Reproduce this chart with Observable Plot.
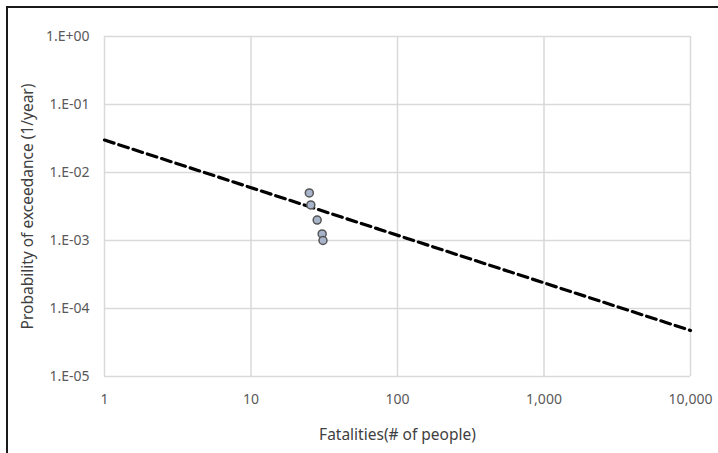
<!DOCTYPE html>
<html>
<head>
<meta charset="utf-8">
<script src="https://cdn.jsdelivr.net/npm/d3@7"></script>
<script src="https://cdn.jsdelivr.net/npm/@observablehq/plot@0.6"></script>
<style>
  html, body { margin: 0; padding: 0; background: #fff; }
  #wrap { position: relative; width: 718px; height: 453px; overflow: hidden; }
  #border { position: absolute; left: 6px; top: 6px; width: 800px; height: 600px;
            border-left: 2px solid #1a1a1a; border-top: 2px solid #1a1a1a; pointer-events: none; }
  svg { font-family: "Noto Sans", sans-serif; }
  svg g[aria-label*="tick label"] text { font-size: 14px !important; fill: #595959; }
  svg g[aria-label="x-axis label"] text { font-size: 15.5px !important; fill: #404040; }
  svg g[aria-label="y-axis label"] text { font-size: 15.5px !important; fill: #404040; }
</style>
</head>
<body>
<div id="wrap"><div id="border"></div></div>
<script>
// Observed events
const fatalities = [25, 25.6, 28.3, 30.6, 31];
const probability = [0.005, 0.00333, 0.002, 0.00125, 0.001];
// F-N criterion line (end points)
const lineFatalities = [1, 10000];
const lineProbability = [0.03, 0.0000475];
// Tick values
const xTicks = [1, 10, 100, 1000, 10000];
const yTicks = [1, 0.1, 0.01, 0.001, 0.0001, 0.00001];

const points = fatalities.map((f, i) => ({f, p: probability[i]}));
const line = lineFatalities.map((f, i) => ({f, p: lineProbability[i]}));

const yFmt = d => {
  const e = Math.round(Math.log10(d));
  return "1.E" + (e >= 0 ? "+" : "-") + String(Math.abs(e)).padStart(2, "0");
};

const chart = Plot.plot({
  width: 718,
  height: 453,
  marginLeft: 104,
  marginRight: 28,
  marginTop: 36,
  marginBottom: 77,
  style: {fontFamily: "'Noto Sans', sans-serif", fontSize: "14px", color: "#595959", background: "transparent"},
  x: {type: "log", domain: [1, 10000]},
  y: {type: "log", domain: [0.00001, 1]},
  marks: [
    Plot.gridX(xTicks, {stroke: "#d9d9d9", strokeWidth: 1.5, strokeOpacity: 1}),
    Plot.gridY(yTicks, {stroke: "#d9d9d9", strokeWidth: 1.5, strokeOpacity: 1}),
    Plot.axisX({ticks: xTicks, tickFormat: d3.format(","), tickSize: 0, tickPadding: 18,
      label: "Fatalities(# of people)", labelAnchor: "center", labelArrow: "none", labelOffset: 63}),
    Plot.axisY({ticks: yTicks, tickFormat: yFmt, tickSize: 0, tickPadding: 15,
      label: "Probability of exceedance (1/year)", labelAnchor: "center", labelArrow: "none", labelOffset: 83}),
    Plot.line(line, {x: "f", y: "p", stroke: "#000", strokeWidth: 3.2, strokeDasharray: "10,5"}),
    Plot.dot(points, {x: "f", y: "p", r: 4, fill: "#a7b4ca", stroke: "#555", strokeWidth: 1.5})
  ]
});
document.getElementById("wrap").prepend(chart);
</script>
</body>
</html>
